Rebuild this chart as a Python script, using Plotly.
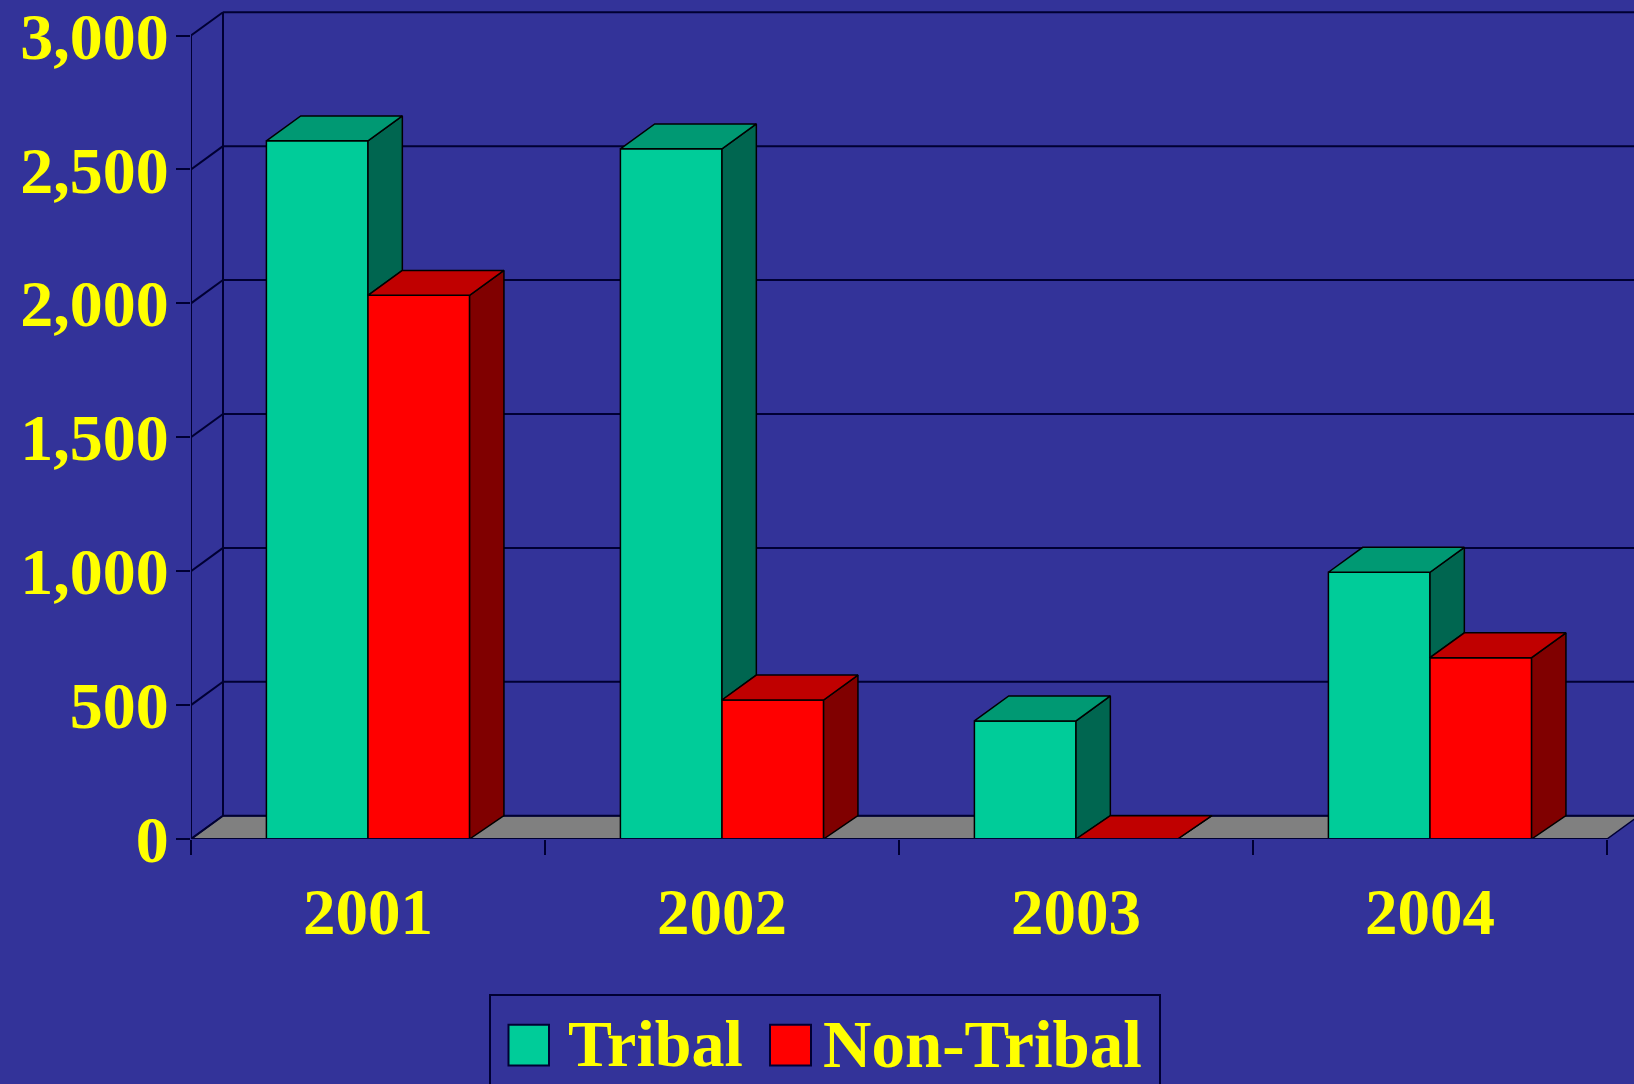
import plotly.graph_objects as go

# ---- data ----
years = ["2001", "2002", "2003", "2004"]
tribal = [2607, 2577, 441, 996]
non_tribal = [2030, 519, 0, 677]
y_ticks = [0, 500, 1000, 1500, 2000, 2500, 3000]

# ---- style ----
BG = "#333399"
YEL = "#FFFF00"
LINE = "#000033"
GREEN, GREEN_TOP, GREEN_SIDE = "#00CC99", "#009973", "#006650"
RED, RED_TOP, RED_SIDE = "#FF0000", "#C00000", "#800000"
FONT = "Liberation Serif"
W, H = 1634, 1084
ML, MB = 191, 244.7
PW, PH = W - ML, H - MB
DX, DY = 0.0904, 87.0       # wall/floor depth, in axis units
BDX, BDY = 0.097, 93.0      # bar depth, in axis units
BW = 0.287                  # bar width, in category units
xpos = list(range(len(years)))
x0, x1 = -0.5, 3.5


def px(x):
    return (x - ML) / PW


def py(y):
    return (PH - y) / PH


def polys(faces):
    xs, ys = [], []
    for f in faces:
        xs += [p[0] for p in f] + [f[0][0], None]
        ys += [p[1] for p in f] + [f[0][1], None]
    return xs, ys


def face_trace(faces, color, name):
    xs, ys = polys(faces)
    return go.Scatter(x=xs, y=ys, mode="lines", fill="toself", fillcolor=color,
                      line=dict(color="#000000", width=1.5), hoverinfo="skip",
                      showlegend=False, name=name)


fig = go.Figure()

# depth faces
g_side, g_top, r_side, r_top = [], [], [], []
for c, t, n in zip(xpos, tribal, non_tribal):
    n_dy = BDY if n > 0 else DY
    g_side.append([(c, t), (c + BDX, t + BDY), (c + BDX, n + n_dy), (c, n)])
    g_top.append([(c - BW, t), (c, t), (c + BDX, t + BDY), (c - BW + BDX, t + BDY)])
    r_side.append([(c + BW, n), (c + BW + BDX, n + n_dy), (c + BW + BDX, DY), (c + BW, 0)])
    r_top.append([(c, n), (c + BW, n), (c + BW + BDX, n + n_dy), (c + BDX, n + n_dy)])

fig.add_trace(face_trace(g_side, GREEN_SIDE, "Tribal side"))
fig.add_trace(face_trace(g_top, GREEN_TOP, "Tribal top"))
fig.add_trace(face_trace(r_side, RED_SIDE, "Non-Tribal side"))
fig.add_trace(face_trace(r_top, RED_TOP, "Non-Tribal top"))

# front faces
fig.add_trace(go.Bar(x=xpos, y=tribal, width=BW, offset=-BW, name="Tribal",
                     marker=dict(color=GREEN, line=dict(color="#000000", width=1.5))))
fig.add_trace(go.Bar(x=xpos, y=non_tribal, width=BW, offset=0, name="Non-Tribal",
                     marker=dict(color=RED, line=dict(color="#000000", width=1.5))))

shapes = []
ln = dict(color=LINE, width=2)
# floor
shapes.append(dict(type="path", layer="below", xref="x", yref="y",
                   path=f"M{x0},0 L{x1},0 L{x1 + DX},{DY} L{x0 + DX},{DY} Z",
                   fillcolor="#808080", line=dict(color=LINE, width=1.5)))
# wall grid, diagonals
for t in y_ticks:
    shapes.append(dict(type="line", layer="below", xref="x", yref="y",
                       x0=x0 + DX, x1=x1 + DX + 1, y0=t + DY, y1=t + DY, line=ln))
    shapes.append(dict(type="line", layer="below", xref="x", yref="y",
                       x0=x0, x1=x0 + DX, y0=t, y1=t + DY, line=ln))
# axes lines
shapes.append(dict(type="line", layer="below", xref="x", yref="y",
                   x0=x0, x1=x0, y0=0, y1=y_ticks[-1], line=ln))
shapes.append(dict(type="line", layer="below", xref="x", yref="y",
                   x0=x0 + DX, x1=x0 + DX, y0=DY, y1=y_ticks[-1] + DY, line=ln))
shapes.append(dict(type="line", layer="above", xref="x", yref="y",
                   x0=x0, x1=x1, y0=0, y1=0, line=ln))

# legend box (runs off the bottom of the page, as in the reference)
shapes.append(dict(type="rect", xref="paper", yref="paper",
                   x0=px(490), x1=px(1160), y0=py(996), y1=py(1100),
                   line=ln, fillcolor=BG))
for a, b, col in [(508.5, 549, GREEN), (770, 811, RED)]:
    shapes.append(dict(type="rect", xref="paper", yref="paper",
                       x0=px(a), x1=px(b), y0=py(1026), y1=py(1067),
                       fillcolor=col, line=dict(color=LINE, width=2)))

annos = [
    dict(text="<b>Tribal</b>", xref="paper", yref="paper", x=px(566), y=py(1045),
         xanchor="left", yanchor="middle", showarrow=False,
         font=dict(family=FONT, size=66, color=YEL)),
    dict(text="<b>Non-Tribal</b>", xref="paper", yref="paper", x=px(821), y=py(1045),
         xanchor="left", yanchor="middle", showarrow=False,
         font=dict(family=FONT, size=67, color=YEL)),
]

fig.update_layout(
    width=W, height=H, margin=dict(l=ML, r=0, t=0, b=MB, pad=0),
    paper_bgcolor=BG, plot_bgcolor=BG, barmode="overlay", showlegend=False,
    shapes=shapes, annotations=annos,
    font=dict(family=FONT, color=YEL),
    xaxis=dict(range=[x0, x0 + PW / 354], tickvals=xpos, ticktext=years, ticks="",
               showgrid=False, zeroline=False, showline=False, ticklabelstandoff=29,
               tickfont=dict(family=FONT, size=65, color=YEL, weight="bold"),
               minor=dict(tickvals=[x0, 0.5, 1.5, 2.5, x1], ticks="outside", ticklen=15,
                          tickcolor=LINE, tickwidth=2, showgrid=False)),
    yaxis=dict(range=[0, PH / 0.2692], tickvals=y_ticks, tickformat=",",
               ticks="outside", ticklen=14, tickcolor=LINE, tickwidth=2,
               showgrid=False, zeroline=False, showline=False, ticklabelstandoff=-6,
               ticklabeloverflow="allow",
               tickfont=dict(family=FONT, size=66, color=YEL, weight="bold")),
)

fig.write_html("out.html", config={"displayModeBar": False},
               post_script="document.body.style.margin='0';document.body.style.background='#333399';")
